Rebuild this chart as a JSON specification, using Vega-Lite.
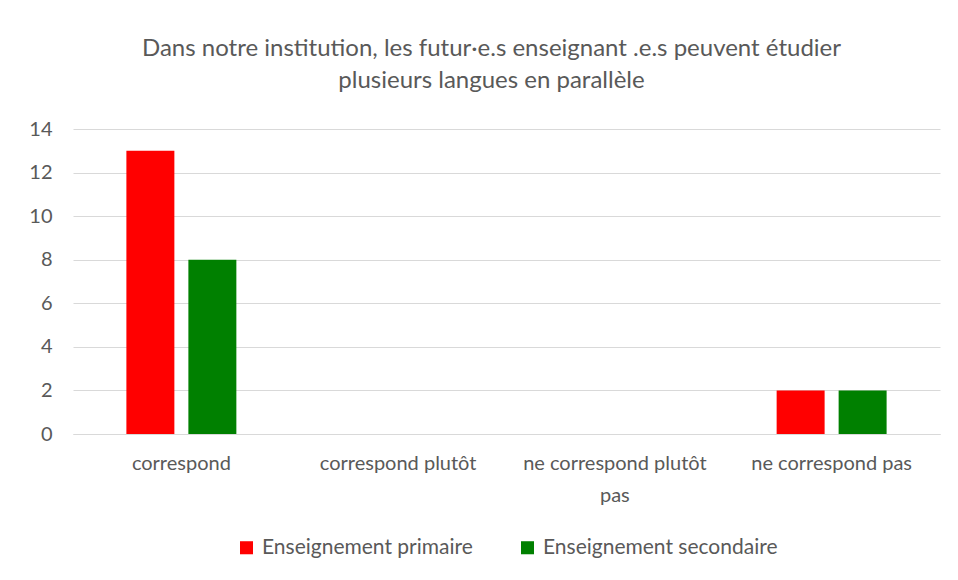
{
  "$schema": "https://vega.github.io/schema/vega-lite/v6.json",
  "width": 867,
  "height": 305,
  "autosize": {"type": "none"},
  "padding": {"left": 73, "top": 129, "right": 18, "bottom": 146},
  "background": "white",
  "config": {
    "font": "Lato",
    "view": {"stroke": null},
    "legend": {"layout": {"bottom": {"anchor": "middle"}}}
  },
  "title": {
    "text": ["Dans notre institution, les futur·e.s enseignant .e.s peuvent étudier", "plusieurs langues en parallèle"],
    "anchor": "middle",
    "fontSize": 24,
    "fontWeight": "normal",
    "color": "#595959",
    "lineHeight": 32,
    "offset": 26,
    "dx": -15
  },
  "data": {
    "values": [
      {"categorie": "correspond", "serie": "Enseignement primaire", "valeur": 13},
      {"categorie": "correspond", "serie": "Enseignement secondaire", "valeur": 8},
      {"categorie": "correspond plutôt", "serie": "Enseignement primaire", "valeur": 0},
      {"categorie": "correspond plutôt", "serie": "Enseignement secondaire", "valeur": 0},
      {"categorie": "ne correspond plutôt pas", "serie": "Enseignement primaire", "valeur": 0},
      {"categorie": "ne correspond plutôt pas", "serie": "Enseignement secondaire", "valeur": 0},
      {"categorie": "ne correspond pas", "serie": "Enseignement primaire", "valeur": 2},
      {"categorie": "ne correspond pas", "serie": "Enseignement secondaire", "valeur": 2}
    ]
  },
  "mark": {"type": "bar"},
  "encoding": {
    "x": {
      "field": "categorie",
      "type": "nominal",
      "sort": ["correspond", "correspond plutôt", "ne correspond plutôt pas", "ne correspond pas"],
      "scale": {"paddingInner": 0.44, "paddingOuter": 0.22},
      "axis": {
        "title": null,
        "labelAngle": 0,
        "labelFontSize": 20,
        "labelColor": "#595959",
        "labelPadding": 29,
        "labelLineHeight": 32,
        "labelBaseline": "middle",
        "labelLimit": 0,
        "ticks": false,
        "domainColor": "#d9d9d9",
        "domainWidth": 1,
        "labelExpr": "datum.label == 'ne correspond plutôt pas' ? ['ne correspond plutôt', 'pas'] : datum.label"
      }
    },
    "xOffset": {
      "field": "serie",
      "type": "nominal",
      "scale": {"paddingInner": 0.226, "paddingOuter": 0.092}
    },
    "y": {
      "field": "valeur",
      "type": "quantitative",
      "scale": {"domain": [0, 14]},
      "axis": {
        "title": null,
        "values": [0, 2, 4, 6, 8, 10, 12, 14],
        "labelFontSize": 20,
        "labelColor": "#595959",
        "labelPadding": 21,
        "ticks": false,
        "domain": false,
        "gridColor": "#d9d9d9",
        "gridWidth": 1
      }
    },
    "color": {
      "field": "serie",
      "type": "nominal",
      "scale": {"domain": ["Enseignement primaire", "Enseignement secondaire"], "range": ["#ff0000", "#008000"]},
      "legend": {
        "title": null,
        "orient": "bottom",
        "direction": "horizontal",
        "symbolType": "square",
        "symbolSize": 170,
        "symbolStrokeWidth": 0,
        "labelFontSize": 21,
        "labelColor": "#595959",
        "labelOffset": 5,
        "labelLimit": 0,
        "columnPadding": 44,
        "offset": 32
      }
    }
  }
}
